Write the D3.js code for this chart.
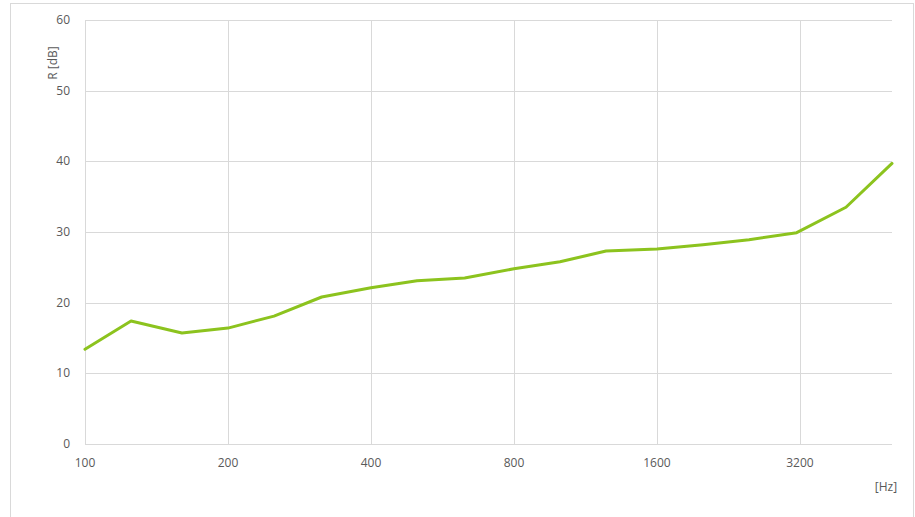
<!DOCTYPE html>
<html>
<head>
<meta charset="utf-8">
<script src="https://cdn.jsdelivr.net/npm/d3@7"></script>
<style>
  body { margin: 0; background: #fff; }
  text { font-family: "Open Sans", sans-serif; fill: #595959; }
</style>
</head>
<body>
<div id="chart"></div>
<script>
// third-octave band centre frequencies and sound reduction index
var freqs = [100, 125, 160, 200, 250, 315, 400, 500, 630, 800, 1000, 1250, 1600, 2000, 2500, 3150, 4000, 5000]
var rValues = [13.4, 17.4, 15.7, 16.4, 18.1, 20.8, 22.1, 23.1, 23.5, 24.8, 25.8, 27.3, 27.6, 28.2, 28.9, 29.9, 33.5, 39.7]
var xTicks = [100, 200, 400, 800, 1600, 3200]
var yTicks = [0, 10, 20, 30, 40, 50, 60]

var width = 915
    height = 517

var svg = d3.select("#chart")
    .append("svg")
    .attr("width", width)
    .attr("height", height)

// outer frame
svg.append("rect")
    .attr("x", 10.5).attr("y", 3.5)
    .attr("width", 903).attr("height", 520)
    .attr("fill", "none")
    .attr("stroke", "#d9d9d9")

var x = d3.scaleLog()
    .domain([100, 5000])
    .range([85, 892])

var y = d3.scaleLinear()
    .domain([0, 60])
    .range([444, 20])

// horizontal grid
svg.append("g")
    .selectAll("line")
    .data(yTicks)
    .enter()
    .append("line")
    .attr("x1", x(100)).attr("x2", x(5000))
    .attr("y1", function(d) { return Math.round(y(d)) + 0.5 })
    .attr("y2", function(d) { return Math.round(y(d)) + 0.5 })
    .attr("stroke", "#d9d9d9")

// vertical grid
svg.append("g")
    .selectAll("line")
    .data(xTicks)
    .enter()
    .append("line")
    .attr("x1", function(d) { return Math.round(x(d)) + 0.5 })
    .attr("x2", function(d) { return Math.round(x(d)) + 0.5 })
    .attr("y1", y(60)).attr("y2", y(0))
    .attr("stroke", "#d9d9d9")

// y tick labels
svg.append("g")
    .selectAll("text")
    .data(yTicks)
    .enter()
    .append("text")
    .attr("x", 70)
    .attr("y", function(d) { return y(d) + 4 })
    .attr("text-anchor", "end")
    .style("font-size", "12px")
    .text(function(d) { return d })

// x tick labels
svg.append("g")
    .selectAll("text")
    .data(xTicks)
    .enter()
    .append("text")
    .attr("x", function(d) { return x(d) })
    .attr("y", 467)
    .attr("text-anchor", "middle")
    .style("font-size", "12px")
    .text(function(d) { return d })

// axis titles
svg.append("text")
    .attr("transform", "translate(57,63) rotate(-90)")
    .attr("text-anchor", "middle")
    .style("font-size", "12px")
    .text("R [dB]")

svg.append("text")
    .attr("x", 886)
    .attr("y", 491)
    .attr("text-anchor", "middle")
    .style("font-size", "12px")
    .text("[Hz]")

// the curve
var line = d3.line()
    .x(function(d, i) { return x(freqs[i]) })
    .y(function(d) { return y(d) })

svg.append("path")
    .datum(rValues)
    .attr("d", line)
    .attr("fill", "none")
    .attr("stroke", "#8cc31e")
    .attr("stroke-width", 3)
    .attr("stroke-linejoin", "round")
    .attr("stroke-linecap", "round")
</script>
</body>
</html>
